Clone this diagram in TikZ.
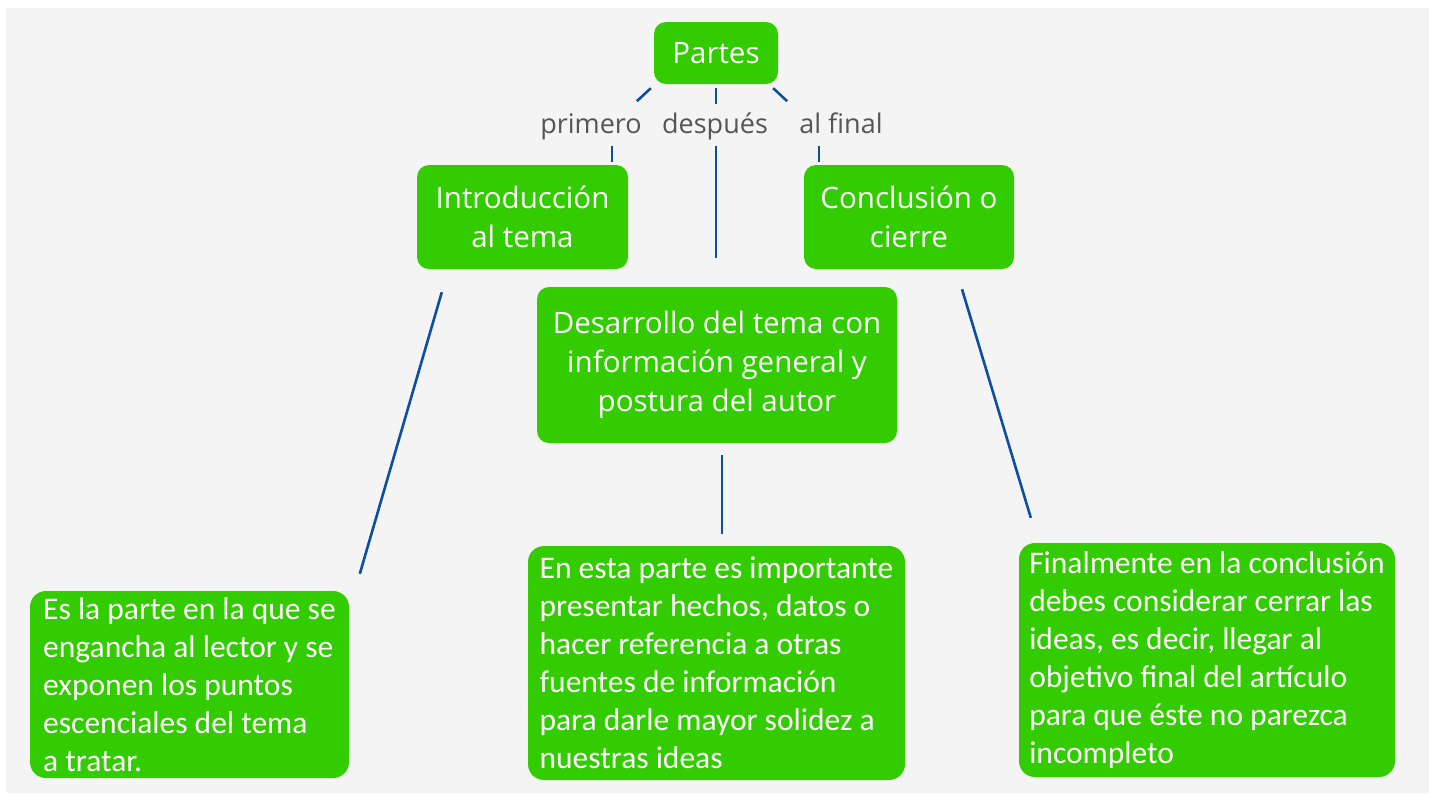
\documentclass[tikz,border=0pt]{standalone}
\usepackage{fontspec}
\setmainfont{Open Sans}
\newfontfamily\bodyfont{Carlito}
\usetikzlibrary{calc}
\definecolor{boxgreen}{HTML}{33CC00}
\definecolor{linkblue}{HTML}{0B4EA2}
\definecolor{bggray}{HTML}{F4F4F4}
\definecolor{labelgray}{HTML}{555555}
\tikzset{
  topbox/.style={fill=boxgreen, rounded corners=12pt, text=white, align=center,
    inner sep=0pt, font=\fontsize{29.5}{39}\selectfont},
  bodybox/.style={fill=boxgreen, rounded corners=16pt, text=white, align=left,
    inner sep=0pt, font=\bodyfont\fontsize{31.5}{38}\selectfont},
  linklabel/.style={text=labelgray, inner sep=2pt, anchor=base, font=\fontsize{27}{30}\selectfont},
  conn/.style={draw=linkblue, line width=2.6pt},
}
\begin{document}
\begin{tikzpicture}[x=1pt,y=-1pt]
\useasboundingbox (0,0) rectangle (1429,793);
\fill[bggray] (6,8) rectangle (1429,793);

\node[topbox, minimum width=124, minimum height=62] (partes) at (716,53) {Partes};
\node[topbox, minimum width=211, minimum height=104] (intro) at (522.5,217) {Introducción\\al tema};
\node[topbox, minimum width=210, minimum height=104] (concl) at (909,217) {Conclusión o\\cierre};
\node[topbox, minimum width=360, minimum height=156] (desa) at (717,365) {Desarrollo del tema con\\información general y\\postura del autor};

\node[linklabel] (primero) at (591,133) {primero};
\node[linklabel] (despues) at (715,133) {después};
\node[linklabel] (alfinal) at (841,133) {al final};

\node[bodybox, minimum width=319, minimum height=187] (leftb) at (189.5,684.5)
  {Es la parte en la que se\\engancha al lector y se\\exponen los puntos\\escenciales del tema\\a tratar.};
\node[bodybox, minimum width=377, minimum height=234] (midb) at (716.5,663)
  {En esta parte es importante\\presentar hechos, datos o\\hacer referencia a otras\\fuentes de información\\para darle mayor solidez a\\nuestras ideas};
\node[bodybox, minimum width=376, minimum height=234] (rightb) at (1207,660)
  {Finalmente en la conclusión\\debes considerar cerrar las\\ideas, es decir, llegar al\\objetivo final del artículo\\para que éste no parezca\\incompleto};

% Partes -> labels -> boxes
\draw[conn] ($(partes.south west)+(-3,4)$) -- ++(-14,13);
\draw[conn] ($(intro.north west)+(195,-3)$) -- ++(0,-16);
\draw[conn] ($(partes.south)+(0,4)$) -- ++(0,16);
\draw[conn] ($(desa.north)+(-1,-29)$) -- ++(0,-112);
\draw[conn] ($(partes.south east)+(-5,4)$) -- ++(14,13);
\draw[conn] ($(concl.north west)+(15,-3)$) -- ++(0,-16);

% boxes -> descriptions
\draw[conn] ($(intro.south west)+(25,23)$) -- ($(leftb.north west)+(330,-17)$);
\draw[conn] ($(desa.south)+(5,12)$) -- ($(midb.north)+(5.5,-12)$);
\draw[conn] ($(concl.south)+(53,20)$) -- ($(rightb.north west)+(12,-25)$);
\end{tikzpicture}
\end{document}
